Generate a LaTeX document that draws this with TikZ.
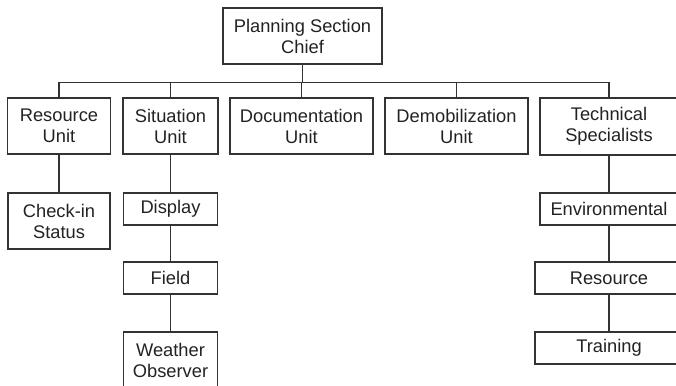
\documentclass[tikz,border=0pt]{standalone}
\usepackage{fontspec}
\setmainfont{Liberation Sans}
\usepackage{tikz}
\usepackage{xcolor}
\definecolor{boxline}{HTML}{333333}
\definecolor{boxtext}{HTML}{222222}

\begin{document}
\begin{tikzpicture}[x=1pt,y=-1pt,
        unit/.style={draw=boxline, line width=1.3pt, text=boxtext, inner sep=0pt,
            align=center, minimum height=56pt, font=\fontsize{18.3}{21}\selectfont},
        small/.style={unit, minimum height=32pt},
        link/.style={draw=boxline, line width=1.3pt}]
            \useasboundingbox (0,0) rectangle (676,385);
            \node[unit, minimum width=159pt] (planning) at (302.5,36) {Planning Section\\Chief};
            \node[unit, minimum width=103pt] (resunit) at (59,126) {Resource\\Unit};
            \node[unit, minimum width=95pt] (situnit) at (170.5,126) {Situation\\Unit};
            \node[unit, minimum width=143pt] (docunit) at (301.5,126) {Documentation\\Unit};
            \node[unit, minimum width=143pt] (demobunit) at (456.5,126) {Demobilization\\Unit};
            \node[unit, minimum width=138pt, minimum height=57pt] (techspec) at (609,126.5) {Technical\\Specialists};
            \node[unit, minimum width=102pt] (checkin) at (59,221) {Check-in\\Status};
            \node[small, minimum width=94pt] (display) at (170.5,209) {Display};
            \node[small, minimum width=94pt] (field) at (170.5,278) {Field};
            \node[unit, minimum width=94pt] (weather) at (170.5,360) {Weather\\Observer};
            \node[small, minimum width=138pt] (environ) at (609,209) {Environmental};
            \node[small, minimum width=148pt] (resource) at (609,278) {Resource};
            \node[small, minimum width=148pt] (training) at (609,348) {Training};
            \path[link] (planning.south) -- ++(0,18) coordinate (bus);
            \foreach \n in {resunit,situnit,docunit,demobunit,techspec}
                \path[link] (bus) -| (\n.north);
            \path[link] (resunit) -- (checkin);
            \path[link] (situnit) -- (display);
            \path[link] (display) -- (field);
            \path[link] (field) -- (weather);
            \path[link] (techspec) -- (environ);
            \path[link] (environ) -- (resource);
            \path[link] (resource) -- (training);
        \end{tikzpicture}
\end{document}
